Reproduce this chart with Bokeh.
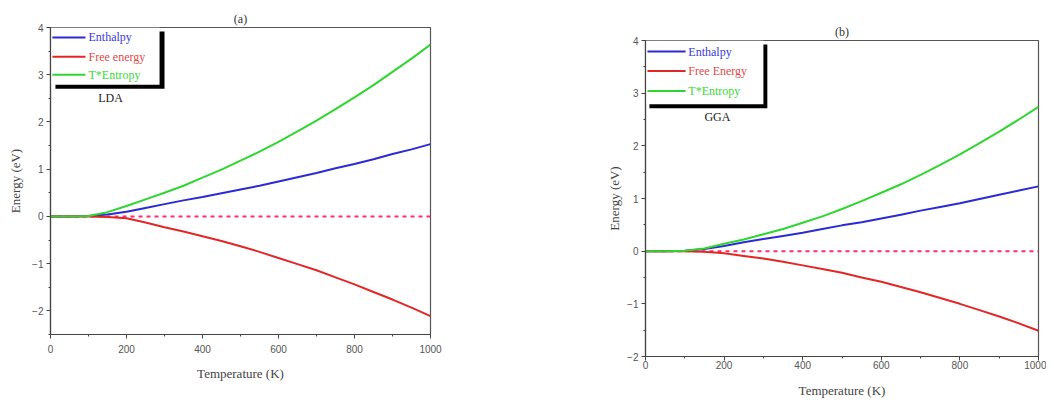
from bokeh.plotting import figure
from bokeh.layouts import row, column
from bokeh.models import Label, SingleIntervalTicker, Range1d
from bokeh.embed import file_html
from bokeh.resources import INLINE

# ---------------- data ----------------
temperature = [0, 50, 100, 150, 200, 250, 300, 350, 400, 450, 500,
               550, 600, 650, 700, 750, 800, 850, 900, 950, 1000]

lda_enthalpy = [0, 0, 0.01, 0.04, 0.10, 0.18, 0.26, 0.34, 0.41, 0.49, 0.57,
                0.65, 0.74, 0.83, 0.92, 1.02, 1.11, 1.21, 1.32, 1.42, 1.53]
lda_free = [0, 0, 0, -0.01, -0.04, -0.13, -0.23, -0.32, -0.42, -0.52, -0.63,
            -0.75, -0.88, -1.01, -1.14, -1.29, -1.44, -1.60, -1.76, -1.93, -2.11]
lda_ts = [0, 0, 0.01, 0.09, 0.22, 0.36, 0.50, 0.65, 0.82, 0.99, 1.18,
          1.37, 1.58, 1.80, 2.03, 2.27, 2.52, 2.78, 3.06, 3.34, 3.64]

gga_enthalpy = [0, 0, 0.01, 0.04, 0.10, 0.17, 0.23, 0.29, 0.35, 0.42, 0.49,
                0.55, 0.62, 0.69, 0.77, 0.84, 0.91, 0.99, 1.07, 1.15, 1.23]
gga_free = [0, 0, 0, -0.01, -0.04, -0.09, -0.14, -0.20, -0.27, -0.34, -0.41,
            -0.50, -0.58, -0.68, -0.78, -0.89, -1.00, -1.12, -1.24, -1.37, -1.51]
gga_ts = [0, 0, 0.01, 0.05, 0.14, 0.22, 0.32, 0.42, 0.54, 0.66, 0.80,
          0.95, 1.11, 1.27, 1.45, 1.64, 1.84, 2.05, 2.27, 2.50, 2.74]

zero_x = [0, 1000]
zero_y = [0, 0]

BLUE = "#2b2bd6"
RED = "#e32626"
GREEN = "#2fd62f"
PINK = "#ff2d6f"
SERIF = "Liberation Serif"
SANS = "Liberation Sans"


def make_panel(width, height, bl, br, bt, bb, ymin, ymax, H, F, TS,
               free_label, method, title, leg, title_off, st):
    p = figure(width=width, height=height, output_backend="svg",
               toolbar_location=None, x_range=Range1d(0, 1000),
               y_range=Range1d(ymin, ymax), min_border_left=bl,
               min_border_right=br, min_border_top=bt, min_border_bottom=bb)
    p.xgrid.visible = False
    p.ygrid.visible = False
    p.outline_line_color = "#555555"
    p.outline_line_width = 1.2
    p.background_fill_color = "white"
    p.border_fill_color = "white"

    p.title.text = title
    p.title.align = "center"
    p.title.offset = title_off
    p.title.standoff = 3
    p.title.text_font = SERIF
    p.title.text_font_size = "12px"
    p.title.text_font_style = "normal"
    p.title.text_color = "#333333"

    p.xaxis.ticker = SingleIntervalTicker(interval=200, num_minor_ticks=2)
    p.yaxis.ticker = SingleIntervalTicker(interval=1, num_minor_ticks=2)
    for ax in (p.xaxis, p.yaxis):
        ax.axis_line_color = "#444444"
        ax.axis_line_width = 1.2
        ax.major_tick_line_color = "#444444"
        ax.minor_tick_line_color = "#444444"
        ax.major_tick_in = 0
        ax.major_tick_out = 4
        ax.minor_tick_in = 0
        ax.minor_tick_out = 2
        ax.major_label_standoff = 3
        ax.major_label_text_font = SANS
        ax.major_label_text_font_size = "10px"
        ax.major_label_text_color = "#555555"
        ax.axis_label_text_font = SERIF
        ax.axis_label_text_font_size = "13px"
        ax.axis_label_text_font_style = "normal"
        ax.axis_label_text_color = "#444444"
    p.xaxis.axis_label = "Temperature (K)"
    p.yaxis.axis_label = "Energy (eV)"
    p.xaxis.major_label_standoff = st["xl"]
    p.xaxis.axis_label_standoff = st["xa"]
    p.yaxis.axis_label_standoff = st["ya"]

    p.line(zero_x, zero_y, line_color=PINK, line_width=2, line_dash="4 4")
    p.line(temperature, H, line_color=BLUE, line_width=2)
    p.line(temperature, F, line_color=RED, line_width=2)
    p.line(temperature, TS, line_color=GREEN, line_width=2)

    # legend box with shadow
    bx, by, dx, dy = leg["box_x"], leg["box_y"], leg["dx"], leg["dy"]
    p.quad(left=dx, right=bx + dx, top=ymax - dy, bottom=by - dy,
           fill_color="black", line_color=None)
    p.quad(left=0, right=bx, top=ymax, bottom=by,
           fill_color="white", line_color=None)
    names = ["Enthalpy", free_label, "T*Entropy"]
    cols = [BLUE, RED, GREEN]
    tcols = ["#3a3ad8", "#e04a4a", "#3ad83a"]
    for nm, c, tc, yy in zip(names, cols, tcols, leg["rows"]):
        p.line([leg["lx0"], leg["lx1"]], [yy, yy], line_color=c, line_width=2)
        p.add_layout(Label(x=leg["tx"], y=yy, text=nm, text_font=SERIF,
                           text_font_size="12px", text_color=tc,
                           text_baseline="middle"))
    p.add_layout(Label(x=leg["mx"], y=leg["my"], text=method, text_font=SERIF,
                       text_font_size="12px", text_color="#222222",
                       text_align="center", text_baseline="middle"))
    return p


left = make_panel(592, 396, 50, 162, 27, 62, -2.5, 4.0,
                  lda_enthalpy, lda_free, lda_ts, "Free energy", "LDA", "(a)",
                  dict(box_x=287, box_y=2.79, dx=13, dy=0.085,
                       rows=[3.79, 3.38, 3.0], lx0=5, lx1=92, tx=100,
                       mx=158, my=2.51), -10,
                  dict(xl=6, xa=10, ya=6))

right = make_panel(454, 400, 53, 8, 40, 44, -2.0, 4.0,
                   gga_enthalpy, gga_free, gga_ts, "Free Energy", "GGA", "(b)",
                   dict(box_x=300, box_y=2.79, dx=10, dy=0.075,
                        rows=[3.79, 3.42, 3.04], lx0=5, lx1=102, tx=109,
                        mx=183, my=2.55), 26,
                   dict(xl=0, xa=11, ya=2))

layout = row(column(left), column(right), spacing=0)
open("out.html", "w").write(file_html(layout, INLINE))
